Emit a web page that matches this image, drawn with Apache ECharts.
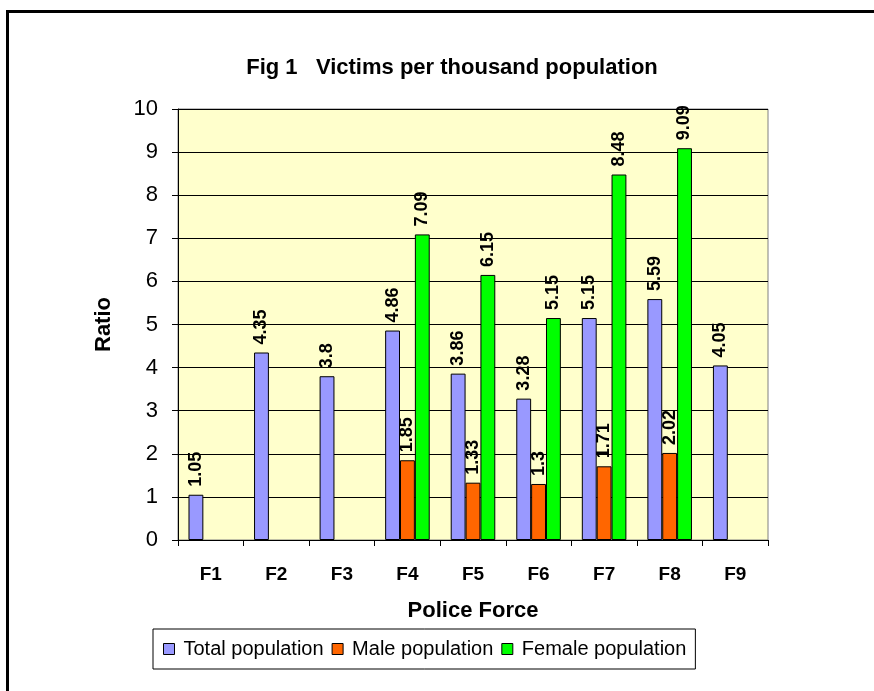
<!DOCTYPE html>
<html><head><meta charset="utf-8">
<script src="https://cdn.jsdelivr.net/npm/echarts@6/dist/echarts.min.js"></script>
<style>html,body{margin:0;padding:0;background:#fff}#c{width:874px;height:691px}</style>
</head><body><div id="c"></div>
<script>
const categories = ['F1','F2','F3','F4','F5','F6','F7','F8','F9'];
const totalPop = [1.05, 4.35, 3.8, 4.86, 3.86, 3.28, 5.15, 5.59, 4.05];
const malePop = [null, null, null, 1.85, 1.33, 1.3, 1.71, 2.02, null];
const femalePop = [null, null, null, 7.09, 6.15, 5.15, 8.48, 9.09, null];
const yTicks = [0,1,2,3,4,5,6,7,8,9,10];

const FONT = '"Liberation Sans", Arial, sans-serif';
const chart = echarts.init(document.getElementById('c'), null, {renderer:'canvas'});
const lbl = {
  show: true, position: 'top', rotate: 90, align: 'left', verticalAlign: 'middle',
  distance: 8, fontFamily: FONT, fontWeight: 'bold', fontSize: 18, color: '#000',
  formatter: p => p.value == null ? '' : String(p.value)
};
function mk(name, data, color){
  return {name, type:'bar', data, barGap:'0%', barCategoryGap:'32%',
    itemStyle:{color, borderColor:'#000', borderWidth:1}, label: lbl};
}
chart.setOption({
  animation:false,
  title:{text:'Fig 1   Victims per thousand population', left:447, textAlign:'center', top:52,
    textStyle:{fontFamily:FONT, fontWeight:'bold', fontSize:22, color:'#000'}},
  graphic:[{type:'rect', shape:{x:7.5, y:11.5, width:900, height:800}, style:{fill:'none', stroke:'#000', lineWidth:3}, z:-1}],
  grid:{left:178, right:106, top:109, bottom:151, show:true, backgroundColor:'#FFFFCC', borderColor:'#808080', borderWidth:1},
  legend:{left:153, top:629, itemGap:8, itemWidth:11, itemHeight:11, icon:'rect',
    padding:[10,9,10,10], borderColor:'#000', borderWidth:1,
    itemStyle:{borderColor:'#000', borderWidth:1},
    textStyle:{fontFamily:FONT, fontSize:20, color:'#000', padding:[0,0,0,4]},
    data:['Total population','Male population','Female population']},
  xAxis:{type:'category', data:categories, name:'Police Force', nameLocation:'middle', nameGap:60,
    nameTextStyle:{fontFamily:FONT, fontWeight:'bold', fontSize:22, color:'#000'},
    axisLine:{lineStyle:{color:'#000', width:1}}, axisTick:{show:true, length:6, lineStyle:{color:'#000'}},
    axisLabel:{fontFamily:FONT, fontWeight:'bold', fontSize:19, color:'#000', margin:25}},
  yAxis:{type:'value', min:yTicks[0], max:yTicks[yTicks.length-1], interval:1, name:'Ratio', nameLocation:'middle', nameGap:63,
    nameTextStyle:{fontFamily:FONT, fontWeight:'bold', fontSize:22, color:'#000'},
    axisLine:{show:true, lineStyle:{color:'#000', width:1}}, axisTick:{show:true, length:6, lineStyle:{color:'#000'}},
    splitLine:{lineStyle:{color:'#000', width:1}},
    axisLabel:{fontFamily:FONT, fontSize:22, color:'#000', margin:20}},
  series:[mk('Total population', totalPop, '#9999FF'), mk('Male population', malePop, '#FF6600'), mk('Female population', femalePop, '#00FF00')]
});
</script></body></html>
